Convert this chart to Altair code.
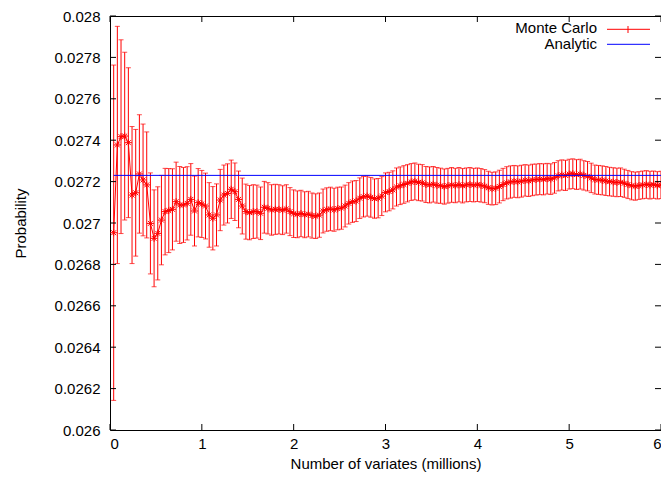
import altair as alt
import pandas as pd

# Monte Carlo sample grid (millions of variates): every 0.04 million
x_millions = [round(0.04 * k, 2) for k in range(1, 151)]

prob = [
    0.026953, 0.027377, 0.027417, 0.027420, 0.027388, 0.027135, 0.027146, 0.027237, 0.027208, 0.027184,
    0.026998, 0.026926, 0.026950, 0.027014, 0.027055, 0.027060, 0.027066, 0.027103, 0.027087, 0.027087,
    0.027095, 0.027114, 0.027058, 0.027098, 0.027092, 0.027082, 0.027039, 0.027023, 0.027039, 0.027111,
    0.027135, 0.027143, 0.027163, 0.027151, 0.027114, 0.027082, 0.027055, 0.027050, 0.027055, 0.027055,
    0.027047, 0.027076, 0.027071, 0.027063, 0.027066, 0.027066, 0.027062, 0.027068, 0.027055, 0.027045,
    0.027042, 0.027046, 0.027040, 0.027043, 0.027036, 0.027033, 0.027038, 0.027058, 0.027065, 0.027068,
    0.027064, 0.027070, 0.027072, 0.027082, 0.027095, 0.027103, 0.027106, 0.027120, 0.027127, 0.027130,
    0.027124, 0.027118, 0.027120, 0.027130, 0.027148, 0.027152, 0.027160, 0.027174, 0.027180, 0.027186,
    0.027192, 0.027198, 0.027201, 0.027196, 0.027194, 0.027186, 0.027184, 0.027187, 0.027182, 0.027180,
    0.027176, 0.027180, 0.027184, 0.027181, 0.027185, 0.027180, 0.027184, 0.027186, 0.027183, 0.027185,
    0.027182, 0.027178, 0.027170, 0.027166, 0.027168, 0.027176, 0.027186, 0.027194, 0.027198, 0.027201,
    0.027199, 0.027202, 0.027206, 0.027204, 0.027208, 0.027210, 0.027212, 0.027211, 0.027214, 0.027212,
    0.027218, 0.027228, 0.027232, 0.027230, 0.027236, 0.027238, 0.027234, 0.027236, 0.027230, 0.027226,
    0.027218, 0.027210, 0.027208, 0.027206, 0.027203, 0.027200, 0.027198, 0.027196, 0.027197, 0.027192,
    0.027186, 0.027180, 0.027178, 0.027181, 0.027184, 0.027186, 0.027183, 0.027185, 0.027182, 0.027184,
]

# error-bar half widths (x 1e-6)
err_micro = [
    810, 573, 468, 405, 362, 331, 306, 286, 270, 256,
    244, 234, 225, 216, 209, 203, 196, 191, 186, 181,
    177, 173, 169, 165, 162, 159, 156, 153, 150, 148,
    145, 143, 141, 139, 137, 135, 133, 131, 130, 128,
    127, 125, 124, 122, 121, 119, 118, 117, 116, 115,
    113, 112, 111, 110, 109, 108, 107, 106, 105, 105,
    104, 103, 102, 101, 100, 100, 99, 98, 98, 97,
    96, 95, 95, 94, 94, 93, 92, 92, 91, 91,
    90, 89, 89, 88, 88, 87, 87, 86, 86, 85,
    85, 84, 84, 83, 83, 83, 82, 82, 81, 81,
    81, 80, 80, 79, 79, 79, 78, 78, 78, 77,
    77, 77, 76, 76, 76, 75, 75, 75, 74, 74,
    74, 73, 73, 73, 72, 72, 72, 72, 71, 71,
    71, 70, 70, 70, 70, 69, 69, 69, 69, 68,
    68, 68, 68, 67, 67, 67, 67, 66, 66, 66,
]

analytic_value = 0.02723
analytic_x = [0.04, 6.0]

y_ticks = [0.026, 0.0262, 0.0264, 0.0266, 0.0268, 0.027, 0.0272, 0.0274, 0.0276, 0.0278, 0.028]
x_ticks = [0, 1, 2, 3, 4, 5, 6]

FONT = "Liberation Sans"
FS = 15
W, H = 551, 414
PL = 102  # left padding -> plot starts at page x = 110

df = pd.DataFrame({"x": x_millions, "p": prob, "e": [v * 1e-6 for v in err_micro]})
df_an = pd.DataFrame({"x": analytic_x, "p": [analytic_value] * len(analytic_x)})
df_yt = pd.DataFrame({"v": y_ticks})
df_xt = pd.DataFrame({"v": x_ticks})
df_one = pd.DataFrame({"k": [0]})

xs = alt.Scale(domain=[0, 6], nice=False, zero=False)
ys = alt.Scale(domain=[0.026, 0.028], nice=False, zero=False)

base = alt.Chart(df).transform_calculate(lo="datum.p - datum.e", hi="datum.p + datum.e")

x_axis = alt.Axis(
    values=x_ticks, format="d", ticks=False, domain=False, grid=False,
    labelPadding=6, labelFontSize=FS, labelFont=FONT, labelColor="black",
    title="Number of variates (millions)", titleFontSize=FS, titleFont=FONT,
    titleFontWeight="normal", titleColor="black", titleY=33, titleBaseline="middle",
)
y_axis = alt.Axis(
    values=y_ticks, format="~g", ticks=False, domain=False, grid=False,
    labelPadding=10, labelFontSize=FS, labelFont=FONT, labelColor="black",
    title="Probability", titleFontSize=FS, titleFont=FONT, titleFontWeight="normal",
    titleColor="black", titleX=-90, titleY=H / 2, titleBaseline="middle", titleAngle=270,
)


def X(field):
    return alt.X(field, type="quantitative", scale=xs, axis=x_axis)


def Y(field):
    return alt.Y(field, type="quantitative", scale=ys, axis=y_axis)


bars = base.mark_rule(color="#ff0000", strokeWidth=1, clip=True).encode(
    x=X("x"), y=Y("lo"), y2="hi:Q",
)
cap_hi = base.mark_tick(orient="horizontal", color="#ff0000", size=5, thickness=1, clip=True).encode(
    x=X("x"), y=Y("hi")
)
cap_lo = base.mark_tick(orient="horizontal", color="#ff0000", size=5, thickness=1, clip=True).encode(
    x=X("x"), y=Y("lo")
)
line = base.mark_line(color="#ff0000", strokeWidth=1, clip=True).encode(x=X("x"), y=Y("p"))
asterisk = "M-1,0L1,0M0,-1L0,1M-0.7,-0.7L0.7,0.7M-0.7,0.7L0.7,-0.7"
points = base.mark_point(shape=asterisk, size=49, filled=False, color="#ff0000",
                         strokeWidth=1, opacity=1, clip=True).encode(x=X("x"), y=Y("p"))
analytic = alt.Chart(df_an).mark_line(color="#0000ff", strokeWidth=1).encode(x=X("x"), y=Y("p"))

TL = 6
yt_left = alt.Chart(df_yt).mark_rule(color="black", strokeWidth=1).encode(
    y=Y("v"), x=alt.value(0), x2=alt.value(TL))
yt_right = alt.Chart(df_yt).mark_rule(color="black", strokeWidth=1).encode(
    y=Y("v"), x=alt.value(W - TL), x2=alt.value(W))
xt_bot = alt.Chart(df_xt).mark_rule(color="black", strokeWidth=1).encode(
    x=X("v"), y=alt.value(H - TL), y2=alt.value(H))
xt_top = alt.Chart(df_xt).mark_rule(color="black", strokeWidth=1).encode(
    x=X("v"), y=alt.value(0), y2=alt.value(TL))

# key (top right, gnuplot style: text then sample)
LX = 487
leg_mc_text = alt.Chart(df_one).mark_text(text="Monte Carlo", align="right", baseline="middle",
                                          font=FONT, fontSize=FS, fontWeight="normal",
                                          color="black").encode(
    x=alt.value(LX), y=alt.value(12.3))
leg_an_text = alt.Chart(df_one).mark_text(text="Analytic", align="right", baseline="middle",
                                          font=FONT, fontSize=FS, fontWeight="normal",
                                          color="black").encode(
    x=alt.value(LX), y=alt.value(27.6))
leg_mc_line = alt.Chart(df_one).mark_rule(color="#ff0000", strokeWidth=1).encode(
    x=alt.value(LX + 10), x2=alt.value(LX + 53), y=alt.value(13.3))
leg_mc_tick = alt.Chart(df_one).mark_rule(color="#ff0000", strokeWidth=1).encode(
    x=alt.value(LX + 31), y=alt.value(10), y2=alt.value(17))
leg_an_line = alt.Chart(df_one).mark_rule(color="#0000ff", strokeWidth=1).encode(
    x=alt.value(LX + 10), x2=alt.value(LX + 53), y=alt.value(28.3))

chart = alt.layer(
    bars, cap_hi, cap_lo, line, points, analytic,
    yt_left, yt_right, xt_bot, xt_top,
    leg_mc_text, leg_an_text, leg_mc_line, leg_mc_tick, leg_an_line,
).properties(
    width=W, height=H,
    autosize=alt.AutoSizeParams(type="none"),
    padding={"left": PL, "top": 8, "right": 0, "bottom": 42},
).configure(font=FONT).configure_view(stroke="black", strokeWidth=1)

chart.save("out.html", embed_options={"renderer": "svg", "actions": False})
